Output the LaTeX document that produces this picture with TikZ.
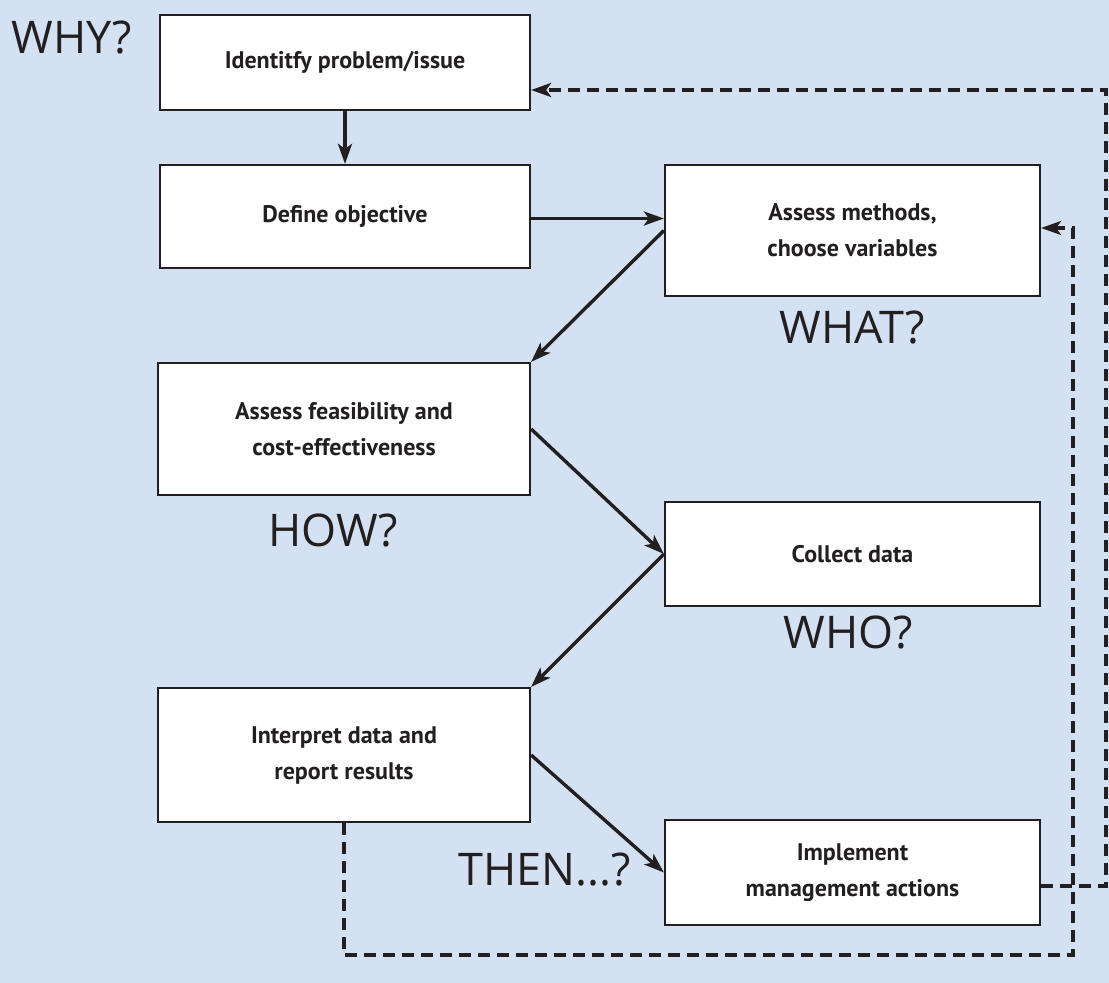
\documentclass[tikz,border=0pt]{standalone}
\usepackage{fontspec}
\setmainfont{PT Sans}
\newfontfamily\handfont{Open Sans}
\usetikzlibrary{arrows.meta}
\definecolor{bg}{RGB}{212,225,243}
\definecolor{ink}{RGB}{35,31,32}
\tikzset{
  box/.style={draw=ink, line width=2.2pt, fill=white, inner sep=0pt, align=center,
    font=\bfseries\fontsize{24}{36}\selectfont, text=ink},
  arr/.style={draw=ink, line width=3.4pt, -{Stealth[length=20pt,width=14pt,inset=5pt]}},
  dline/.style={draw=ink, line width=3.4pt, dash pattern=on 12pt off 7pt},
  darr/.style={dline, -{Stealth[length=20pt,width=14pt,inset=5pt]}},
  hand/.style={font=\handfont\fontsize{45}{50}\selectfont, text=ink, inner sep=0pt}
}
\begin{document}
\begin{tikzpicture}[x=1pt,y=-1pt]
\fill[bg] (0,0) rectangle (1109,983);
\useasboundingbox (0,0) rectangle (1109,983);

\node[box, minimum width=370pt, minimum height=95pt] (id) at (345,62.5) {Identitfy problem/issue};
\node[box, minimum width=370pt, minimum height=103pt] (def) at (345,216.5) {Define objective};
\node[box, minimum width=375pt, minimum height=131pt] (meth) at (852.5,230.5) {Assess methods,\\choose variables};
\node[box, minimum width=372pt, minimum height=132pt] (feas) at (344,429) {Assess feasibility and\\cost-effectiveness};
\node[box, minimum width=375pt, minimum height=104pt] (coll) at (852.5,554) {Collect data};
\node[box, minimum width=372pt, minimum height=134pt] (interp) at (344,755) {Interpret data and\\report results};
\node[box, minimum width=375pt, minimum height=105pt] (impl) at (852.5,872.5) {Implement\\management actions};

\node[hand] (why) at (72,38) {WHY?};
\node[hand] (what) at (852,328) {WHAT?};
\node[hand] (how) at (333,530) {HOW?};
\node[hand] (who) at (848,632) {WHO?};
\node[hand] (then) at (545,870) {THEN...?};

\draw[arr] (id.south) -- (def.north);
\draw[arr] ([yshift=-2pt]def.east) -- ([yshift=-2pt]def.east -| meth.west);
\draw[arr] (meth.west) -- (feas.north east);
\draw[arr] (feas.east) -- (coll.west);
\draw[arr] (coll.west) -- (interp.north east);
\draw[arr] (interp.east) -- (impl.west);

\coordinate (r1) at (1106,886);
\coordinate (rtop) at (1106,90);
\draw[darr] (impl.east |- r1) -- (r1) -- (rtop) -- (rtop -| id.east);

\coordinate (bot) at (1073,955);
\coordinate (mtop) at (1073,228);
\draw[darr] (interp.south) -- (interp.south |- bot) -- (bot) -- (mtop) -- (mtop -| meth.east);
\end{tikzpicture}
\end{document}
